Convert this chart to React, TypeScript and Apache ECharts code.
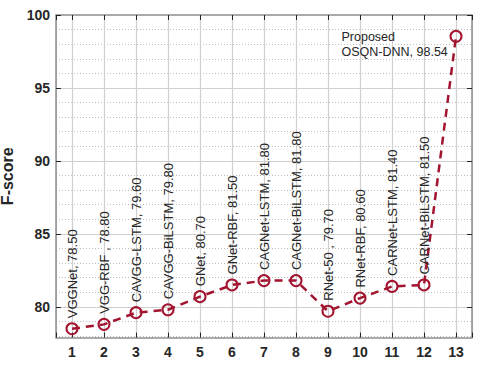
import React, { useEffect, useRef } from "react";
import * as echarts from "echarts";

const xs = [1, 2, 3, 4, 5, 6, 7, 8, 9, 10, 11, 12, 13];
const names = [
  "VGGNet",
  "VGG-RBF ",
  "CAVGG-LSTM",
  "CAVGG-BiLSTM",
  "GNet",
  "GNet-RBF",
  "CAGNet-LSTM",
  "CAGNet-BiLSTM",
  "RNet-50 ",
  "RNet-RBF",
  "CARNet-LSTM",
  "CARNet-BiLSTM",
  "OSQN-DNN",
];
const fscores = [78.5, 78.8, 79.6, 79.8, 80.7, 81.5, 81.8, 81.8, 79.7, 80.6, 81.4, 81.5, 98.54];
const yTicks = [80, 85, 90, 95, 100];
const yMajorLines = [80, 85, 90, 95];
const yMinorLines = [78, 79, 81, 82, 83, 84, 86, 87, 88, 89, 91, 92, 93, 94, 96, 97, 98, 99];

const RED = "#A2142F";
const FONT = "'Liberation Sans', Arial, Helvetica, sans-serif";
const AXIS_COLOR = "#8f8f8f";
const TEXT_COLOR = "#262626";
const GRID_COLOR = "#cfcfcf";
const MINOR_COLOR = "#bcbcbc";

export default function App() {
  const ref = useRef<HTMLDivElement>(null);

  useEffect(() => {
    if (!ref.current) return;
    const chart = echarts.init(ref.current, null, { renderer: "svg" });
    const last = xs.length - 1;
    const data = xs.map((x, i) => {
      if (i === last) {
        return {
          value: [x, fscores[i]],
          label: {
            show: true,
            rotate: 0,
            position: [-108, 0],
            align: "left",
            verticalAlign: "top",
            lineHeight: 15,
            fontSize: 12.5,
            formatter: `Proposed\n${names[i]}, ${fscores[i].toFixed(2)}`,
          },
        };
      }
      return { value: [x, fscores[i]] };
    });

    const xAxisBase = {
      type: "value",
      min: 0.5,
      max: 13.5,
      splitNumber: 13,
      axisLine: { show: true, onZero: false, lineStyle: { color: AXIS_COLOR, width: 1.5 } },
      axisTick: { show: true, inside: true, length: 5, lineStyle: { color: TEXT_COLOR, width: 1 } },
      z: 2,
    };

    chart.setOption({
      animation: false,
      backgroundColor: "#ffffff",
      textStyle: { fontFamily: FONT },
      grid: {
        left: 56,
        right: 8,
        top: 15,
        bottom: 28.5,
        containLabel: false,
        outerBoundsMode: "none",
      },
      xAxis: [
        {
          ...xAxisBase,
          position: "bottom",
          axisLabel: {
            show: true,
            margin: 7,
            fontSize: 14,
            fontWeight: "bold",
            color: TEXT_COLOR,
            fontFamily: FONT,
            formatter: (v: number) => (Number.isInteger(v) ? String(v) : ""),
          },
          splitLine: { show: true, lineStyle: { color: GRID_COLOR, width: 1.2, type: "solid" } },
        },
        {
          ...xAxisBase,
          position: "top",
          axisLabel: { show: false },
          splitLine: { show: false },
        },
      ],
      yAxis: [
        {
          type: "value",
          position: "left",
          min: 77.9,
          max: 100,
          splitNumber: 22,
          name: "F-score",
          nameLocation: "middle",
          nameGap: 30,
          nameTextStyle: { fontSize: 16, fontWeight: "bold", color: TEXT_COLOR, fontFamily: FONT },
          axisLine: { show: true, onZero: false, lineStyle: { color: AXIS_COLOR, width: 1.5 } },
          axisTick: {
            show: true,
            inside: true,
            length: 5,
            customValues: yTicks,
            lineStyle: { color: TEXT_COLOR, width: 1 },
          },
          axisLabel: {
            show: true,
            margin: 6,
            fontSize: 14,
            fontWeight: "bold",
            color: TEXT_COLOR,
            fontFamily: FONT,
            customValues: yTicks,
            formatter: (v: number) => (yTicks.includes(v) ? String(v) : ""),
          },
          splitLine: { show: false },
          z: 2,
        },
        {
          type: "value",
          position: "right",
          min: 77.9,
          max: 100,
          splitNumber: 22,
          axisLine: { show: true, onZero: false, lineStyle: { color: AXIS_COLOR, width: 1.5 } },
          axisTick: {
            show: true,
            inside: true,
            length: 5,
            customValues: yTicks,
            lineStyle: { color: TEXT_COLOR, width: 1 },
          },
          axisLabel: { show: false },
          splitLine: { show: false },
          z: 2,
        },
      ],
      series: [
        {
          type: "line",
          xAxisIndex: 0,
          yAxisIndex: 0,
          data,
          symbol: "circle",
          symbolSize: 11,
          itemStyle: { color: "rgba(255,255,255,0)", borderColor: RED, borderWidth: 2 },
          lineStyle: { color: RED, width: 2.5, type: [8, 6] },
          label: {
            show: true,
            rotate: 90,
            position: "top",
            distance: 4,
            align: "left",
            verticalAlign: "middle",
            fontSize: 13,
            color: TEXT_COLOR,
            fontFamily: FONT,
            formatter: (p: any) => `${names[p.dataIndex]}, ${fscores[p.dataIndex].toFixed(2)}`,
          },
          markLine: {
            silent: true,
            symbol: "none",
            z: 1,
            animation: false,
            label: { show: false },
            emphasis: { disabled: true },
            data: [
              ...yMajorLines.map((v) => ({
                yAxis: v,
                lineStyle: { color: GRID_COLOR, width: 1.2, type: "solid" },
              })),
              ...yMinorLines.map((v) => ({
                yAxis: v,
                lineStyle: { color: MINOR_COLOR, width: 1, type: [1, 2] },
              })),
            ],
          },
          z: 3,
        },
      ],
    });
    return () => chart.dispose();
  }, []);

  return (
    <div
      ref={ref}
      style={{ position: "absolute", left: 0, top: 0, width: 480, height: 366 }}
    />
  );
}
